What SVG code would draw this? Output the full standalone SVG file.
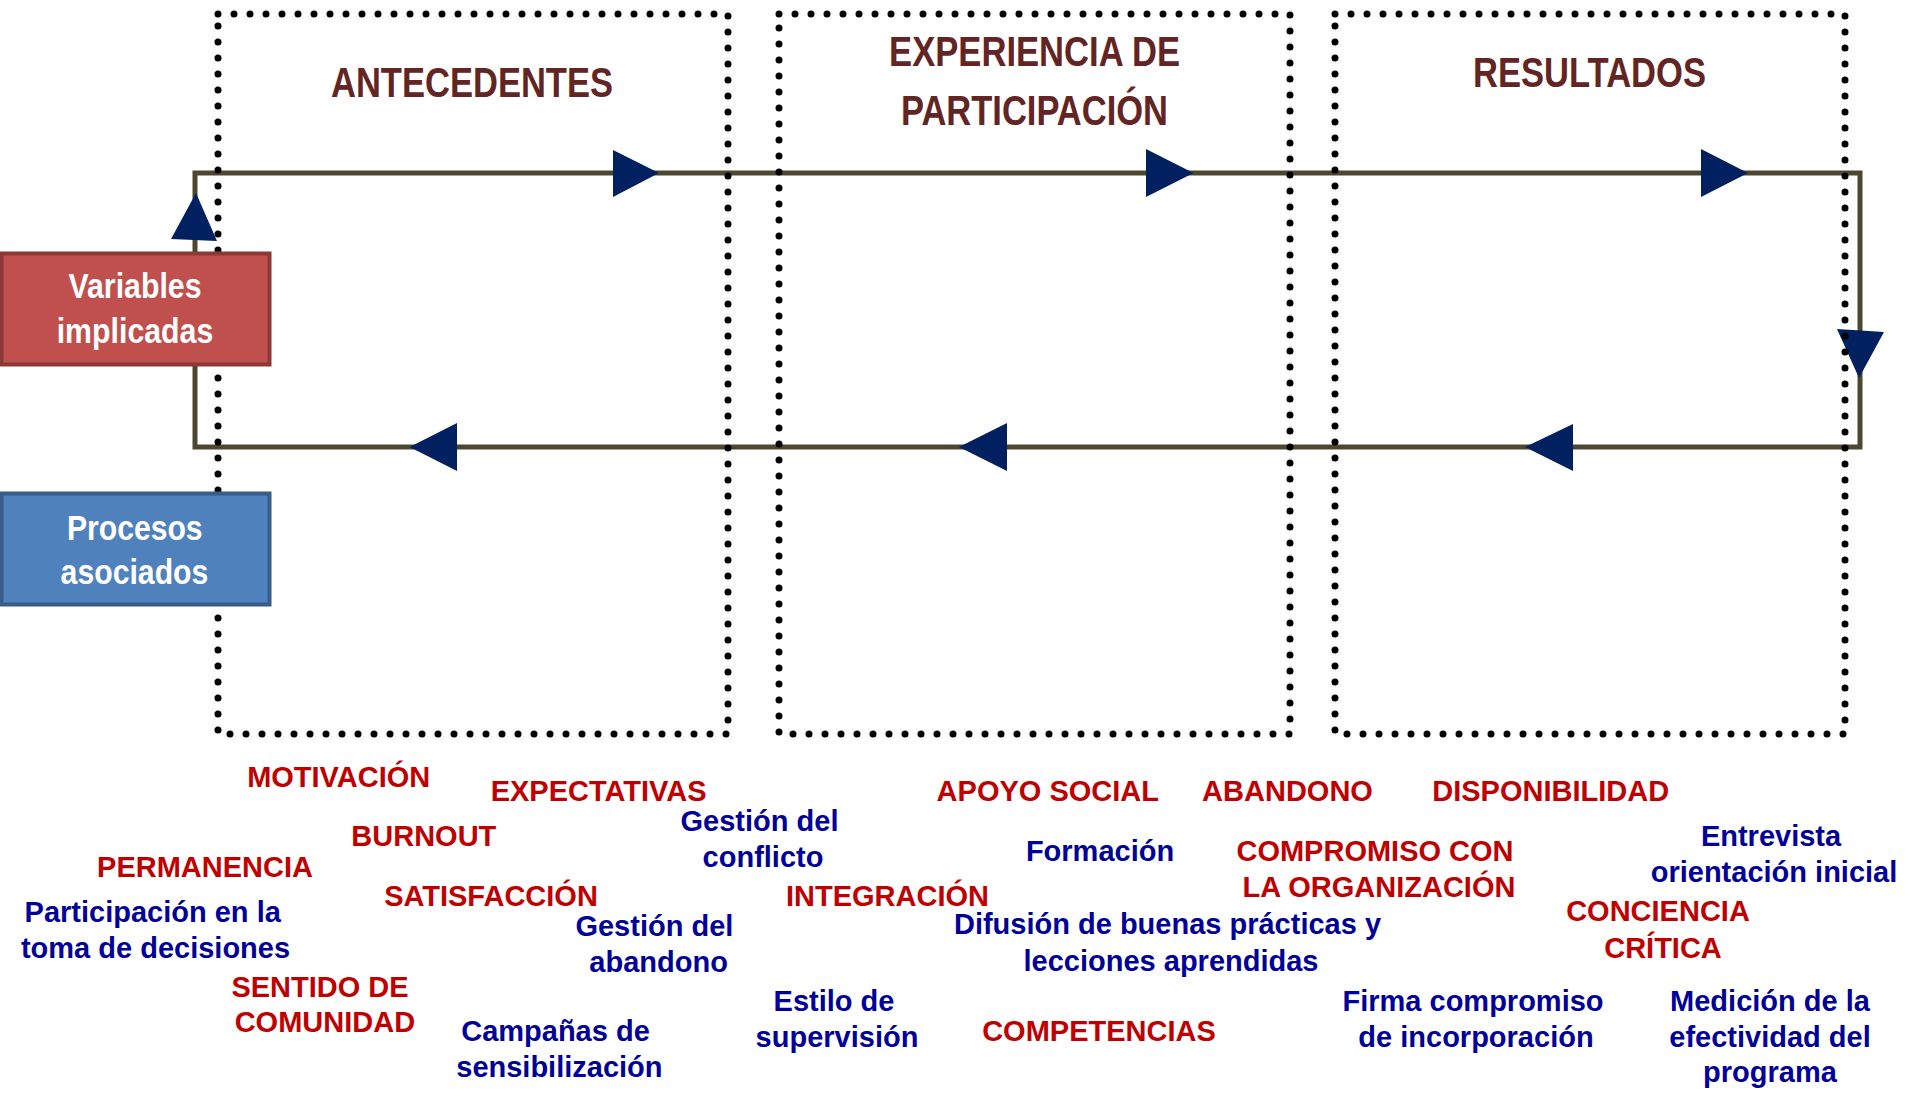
<svg xmlns="http://www.w3.org/2000/svg" width="1907" height="1094" viewBox="0 0 1907 1094">
<style>
.loop{fill:none;stroke:#4d4631;stroke-width:5;stroke-linejoin:miter}
.arr{fill:#002060}
.stage{fill:none;stroke:#000;stroke-width:7;stroke-linecap:round;stroke-dasharray:0 16}
.hdr{font-family:"Liberation Sans",Arial,sans-serif;font-weight:bold;font-size:42px;fill:#632523;text-anchor:middle}
.box-t{font-family:"Liberation Sans",Arial,sans-serif;font-weight:bold;font-size:35px;fill:#fff;text-anchor:middle}
.lbl{font-family:"Liberation Sans",Arial,sans-serif;font-weight:bold;font-size:29px;text-anchor:middle}
.r{fill:#c00000}
.b{fill:#000099}
</style>
<rect width="1907" height="1094" fill="#fff"/>
<g id="connectors">
<rect class="loop" x="195" y="173" width="1665" height="274"/>
<polygon class="arr" points="196,193 171,239 217,241"/>
<polygon class="arr" points="659,173 613,150 613,197"/>
<polygon class="arr" points="1193.5,173 1146,149 1146,197"/>
<polygon class="arr" points="1748,173 1701,149 1701,197"/>
<polygon class="arr" points="1837,329 1884,332 1859,378"/>
<polygon class="arr" points="1525,447 1573,424 1573,471"/>
<polygon class="arr" points="959,447 1007,423 1007,471"/>
<polygon class="arr" points="409.6,447 457,423 457,471"/>
</g>
<g id="stage-antecedentes">
<rect class="stage" x="218" y="14" width="510" height="720"/>
<text class="hdr" x="472" y="97" textLength="282" lengthAdjust="spacingAndGlyphs">ANTECEDENTES</text>
</g>
<g id="stage-experiencia">
<rect class="stage" x="779" y="14" width="511" height="720"/>
<text class="hdr" x="1034.6" y="65.7" textLength="291" lengthAdjust="spacingAndGlyphs">EXPERIENCIA DE</text>
<text class="hdr" x="1034.5" y="125" textLength="267" lengthAdjust="spacingAndGlyphs">PARTICIPACIÓN</text>
</g>
<g id="stage-resultados">
<rect class="stage" x="1335" y="14" width="510" height="720"/>
<text class="hdr" x="1589.5" y="87.3" textLength="233" lengthAdjust="spacingAndGlyphs">RESULTADOS</text>
</g>
<g id="node-variables">
<rect x="1.5" y="253.5" width="268" height="111" fill="#c0504d" stroke="#8c3836" stroke-width="4"/>
<text class="box-t" x="135" y="298" textLength="133" lengthAdjust="spacingAndGlyphs">Variables</text>
<text class="box-t" x="135" y="343" textLength="156.6" lengthAdjust="spacingAndGlyphs">implicadas</text>
</g>
<g id="node-procesos">
<rect x="1.5" y="493.5" width="268" height="111" fill="#4f81bd" stroke="#385d8a" stroke-width="4"/>
<text class="box-t" x="134.8" y="540" textLength="135.7" lengthAdjust="spacingAndGlyphs">Procesos</text>
<text class="box-t" x="134.5" y="584" textLength="147.8" lengthAdjust="spacingAndGlyphs">asociados</text>
</g>
<g id="variables-labels">
<text class="lbl r" x="338.7" y="786.7">MOTIVACIÓN</text>
<text class="lbl r" x="598.6" y="801">EXPECTATIVAS</text>
<text class="lbl r" x="423.8" y="846">BURNOUT</text>
<text class="lbl r" x="205" y="876.7">PERMANENCIA</text>
<text class="lbl r" x="491" y="906">SATISFACCIÓN</text>
<text class="lbl r" x="320" y="996.7">SENTIDO DE</text>
<text class="lbl r" x="324.9" y="1031.7">COMUNIDAD</text>
<text class="lbl r" x="1047.8" y="801">APOYO SOCIAL</text>
<text class="lbl r" x="1287.5" y="801">ABANDONO</text>
<text class="lbl r" x="887.5" y="905.7">INTEGRACIÓN</text>
<text class="lbl r" x="1099" y="1040.7">COMPETENCIAS</text>
<text class="lbl r" x="1375" y="861">COMPROMISO CON</text>
<text class="lbl r" x="1379" y="896.7">LA ORGANIZACIÓN</text>
<text class="lbl r" x="1550.7" y="801">DISPONIBILIDAD</text>
<text class="lbl r" x="1658" y="921">CONCIENCIA</text>
<text class="lbl r" x="1663" y="957.7">CRÍTICA</text>
</g>
<g id="procesos-labels">
<text class="lbl b" x="152.7" y="921.7">Participación en la</text>
<text class="lbl b" x="155.5" y="957.7">toma de decisiones</text>
<text class="lbl b" x="654.4" y="935.7">Gestión del</text>
<text class="lbl b" x="658.6" y="971.7">abandono</text>
<text class="lbl b" x="555.5" y="1041">Campañas de</text>
<text class="lbl b" x="559.4" y="1076.7">sensibilización</text>
<text class="lbl b" x="759.5" y="830.7">Gestión del</text>
<text class="lbl b" x="763" y="866.7">conflicto</text>
<text class="lbl b" x="1100" y="860.7">Formación</text>
<text class="lbl b" x="1167.5" y="934">Difusión de buenas prácticas y</text>
<text class="lbl b" x="1171" y="970.7">lecciones aprendidas</text>
<text class="lbl b" x="834" y="1010.7">Estilo de</text>
<text class="lbl b" x="837" y="1046.7">supervisión</text>
<text class="lbl b" x="1771" y="846">Entrevista</text>
<text class="lbl b" x="1774" y="881.7">orientación inicial</text>
<text class="lbl b" x="1473" y="1011">Firma compromiso</text>
<text class="lbl b" x="1476" y="1046.7">de incorporación</text>
<text class="lbl b" x="1770" y="1011">Medición de la</text>
<text class="lbl b" x="1770" y="1046.7">efectividad del</text>
<text class="lbl b" x="1770" y="1081.7">programa</text>
</g>
</svg>
